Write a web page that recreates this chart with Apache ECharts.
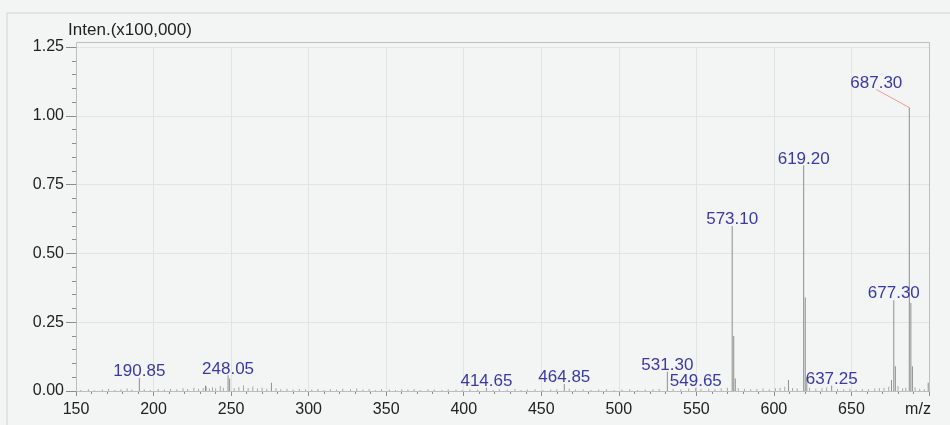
<!DOCTYPE html>
<html>
<head>
<meta charset="utf-8">
<script src="https://cdn.jsdelivr.net/npm/echarts@6/dist/echarts.min.js"></script>
<style>
  html, body { margin: 0; padding: 0; background: #fafafa; }
  #chart { width: 950px; height: 425px; }
</style>
</head>
<body>
<div id="chart"></div>
<script>
// Annotated peaks: m/z and relative intensity (x100,000)
const labeledMz  = [190.85, 248.05, 414.65, 464.85, 531.30, 549.65, 573.10, 619.20, 637.25, 677.30, 687.30];
const labeledInt = [0.047,  0.057,  0.012,  0.025,  0.070,  0.012,  0.600,  0.820,  0.020,  0.330,  1.030];

// Isotope and other unlabelled peaks
const minorMz  = [249.05, 233.5, 276.0, 574.10, 575.10, 609.40, 620.20, 621.20, 675.8, 678.30, 688.30, 689.30, 699.5];
const minorInt = [0.045,  0.020, 0.030, 0.200,  0.045,  0.040,  0.340,  0.050,  0.040, 0.090,  0.320,  0.090,  0.030];

// Baseline noise
const noiseMz = [153, 158, 162, 167, 171, 175, 179, 183, 186, 194, 198, 203, 207, 211, 215, 219, 222, 226, 229, 232,
  234, 236, 238, 240, 243, 245, 252, 255, 258, 261, 264, 267, 270, 273, 279, 282, 286, 290, 294, 298,
  302, 306, 310, 314, 318, 322, 327, 331, 335, 339, 343, 347, 352, 356, 360, 364, 368, 372, 377, 381,
  386, 390, 395, 399, 404, 409, 419, 423, 428, 433, 437, 441, 446, 451, 456, 460, 468, 472, 477, 482,
  487, 492, 497, 502, 507, 512, 517, 522, 526, 535, 540, 545, 553, 558, 562, 566, 570, 577, 581, 585,
  589, 593, 597, 601, 604, 607, 612, 615, 623, 627, 631, 634, 641, 645, 649, 653, 657, 661, 665, 668,
  671, 674, 680, 683, 685, 691, 694, 697];
const noiseInt = [0.004, 0.006, 0.003, 0.005, 0.008, 0.004, 0.006, 0.009, 0.005, 0.006, 0.004, 0.007, 0.005, 0.008, 0.006, 0.010, 0.007, 0.012, 0.008, 0.011,
  0.016, 0.009, 0.014, 0.010, 0.018, 0.012, 0.010, 0.014, 0.020, 0.011, 0.016, 0.009, 0.012, 0.008, 0.010, 0.006, 0.008, 0.005, 0.007, 0.006,
  0.005, 0.007, 0.004, 0.006, 0.005, 0.008, 0.006, 0.009, 0.005, 0.007, 0.004, 0.006, 0.005, 0.004, 0.006, 0.005, 0.007, 0.004, 0.006, 0.005,
  0.004, 0.006, 0.005, 0.004, 0.006, 0.005, 0.004, 0.006, 0.005, 0.007, 0.004, 0.005, 0.006, 0.004, 0.005, 0.006, 0.008, 0.005, 0.006, 0.004,
  0.005, 0.006, 0.004, 0.005, 0.006, 0.004, 0.005, 0.006, 0.007, 0.008, 0.006, 0.009, 0.007, 0.008, 0.006, 0.010, 0.012, 0.010, 0.008, 0.006,
  0.007, 0.009, 0.006, 0.010, 0.012, 0.015, 0.011, 0.009, 0.012, 0.008, 0.010, 0.013, 0.007, 0.006, 0.008, 0.005, 0.007, 0.006, 0.009, 0.010,
  0.012, 0.015, 0.018, 0.010, 0.012, 0.014, 0.008, 0.006];

// Axis ticks
const xTicks = { min: 150, max: 700, step: 50 };
const yTicks = { min: 0, max: 1.25, step: 0.25 };
const xName = 'm/z';
const yName = 'Inten.(x100,000)';

const FONT = '"Liberation Sans", Arial, Helvetica, sans-serif';
const LABEL_BLUE = '#3a3aa2';

// The base peak (highest) gets its label pulled aside with a leader line
const baseIdx = labeledInt.indexOf(Math.max(...labeledInt));

const data = [];
noiseMz.forEach((m, i) => data.push({ value: [m, noiseInt[i]], itemStyle: { color: '#a8a8a8' } }));
minorMz.forEach((m, i) => data.push({ value: [m, minorInt[i]] }));
labeledMz.forEach((m, i) => data.push({ value: [m, labeledInt[i]], label: { show: i !== baseIdx } }));

const chart = echarts.init(document.getElementById('chart'), null, { renderer: 'canvas' });
chart.setOption({
  backgroundColor: '#f3f4f4',
  animation: false,
  textStyle: { fontFamily: FONT },
  grid: { left: 76, right: 21, top: 47, bottom: 34, outerBoundsMode: 'none', containLabel: false },
  graphic: [
    {
      type: 'rect', z: -10, silent: true,
      shape: { x: 7, y: 13, width: 1000, height: 500 },
      style: { fill: 'transparent', stroke: '#d2d2d2', lineWidth: 1 }
    },
    {
      type: 'rect', z: 100, silent: true,
      shape: { x: 76.5, y: 42.5, width: 853, height: 349 },
      style: { fill: 'transparent', stroke: '#bdbdbd', lineWidth: 1 }
    }
  ],
  xAxis: {
    type: 'value',
    min: xTicks.min, max: xTicks.max, interval: xTicks.step,
    axisLine: { show: true, lineStyle: { color: '#8c8c8c', width: 1 } },
    axisTick: { show: true, length: 5, lineStyle: { color: '#8c8c8c' } },
    minorTick: { show: true, splitNumber: 5, length: 3, lineStyle: { color: '#8c8c8c' } },
    splitLine: { show: true, lineStyle: { color: '#e2e4e4', width: 1 } },
    axisLabel: {
      margin: 11, fontSize: 16, color: '#222', fontFamily: FONT,
      formatter: v => (v === xTicks.max ? '{m|' + xName + '}' : String(v)),
      rich: { m: { fontSize: 16, color: '#222', fontFamily: FONT, padding: [0, 22, 0, 0] } }
    }
  },
  yAxis: {
    type: 'value',
    min: yTicks.min, max: yTicks.max, interval: yTicks.step,
    name: yName,
    nameLocation: 'end',
    nameGap: 1,
    nameTextStyle: { fontSize: 17, color: '#222', fontFamily: FONT, align: 'center', padding: [0, 0, 0, 108] },
    axisLine: { show: true, lineStyle: { color: '#8c8c8c', width: 1 } },
    axisTick: { show: true, length: 10, lineStyle: { color: '#8c8c8c' } },
    minorTick: { show: true, splitNumber: 5, length: 4, lineStyle: { color: '#8c8c8c' } },
    splitLine: { show: true, lineStyle: { color: '#e2e4e4', width: 1 } },
    axisLabel: { margin: 12, fontSize: 16, color: '#222', fontFamily: FONT, formatter: v => v.toFixed(2) }
  },
  series: [
    {
      type: 'bar',
      barWidth: 1,
      itemStyle: { color: '#8e8e8e' },
      label: {
        show: false,
        position: 'top',
        distance: -2,
        fontSize: 17,
        color: LABEL_BLUE,
        fontFamily: FONT,
        formatter: p => p.value[0].toFixed(2)
      },
      data: data
    },
    {
      // leader line + label for the base peak
      type: 'custom',
      silent: true,
      z: 5,
      data: [[labeledMz[baseIdx], labeledInt[baseIdx]]],
      renderItem: (params, api) => {
        const p = api.coord([api.value(0), api.value(1)]);
        const end = [p[0] - 33, p[1] - 18];
        return {
          type: 'group',
          children: [
            {
              type: 'line',
              shape: { x1: p[0], y1: p[1], x2: end[0], y2: end[1] },
              style: { stroke: '#f09a9a', lineWidth: 1 }
            },
            {
              type: 'text',
              x: end[0], y: end[1] - 6,
              style: {
                text: api.value(0).toFixed(2),
                fill: LABEL_BLUE, fontSize: 17, fontFamily: FONT,
                align: 'center', verticalAlign: 'middle'
              }
            }
          ]
        };
      }
    }
  ]
});
</script>
</body>
</html>
